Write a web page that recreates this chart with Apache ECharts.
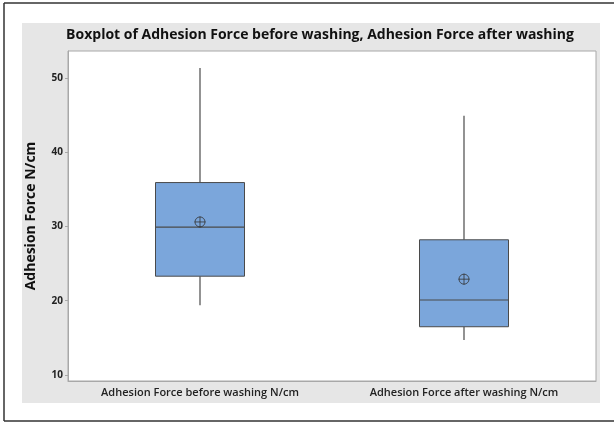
<!DOCTYPE html>
<html>
<head>
<meta charset="utf-8">
<script src="https://cdn.jsdelivr.net/npm/echarts@6/dist/echarts.min.js"></script>
<style>
  html, body { margin: 0; padding: 0; background: #fff; }
  #chart { width: 614px; height: 423px; }
</style>
</head>
<body>
<div id="chart"></div>
<script>
// values
const categories = ["Adhesion Force before washing N/cm", "Adhesion Force after washing N/cm"];
const whiskerLow = [19.4, 14.7];
const q1 = [23.3, 16.5];
const median = [29.9, 20.1];
const q3 = [35.9, 28.2];
const whiskerHigh = [51.3, 44.9];
const means = [30.6, 22.9];
const yTicks = [10, 20, 30, 40, 50];

const boxData = categories.map((c, i) => [i, whiskerLow[i], q1[i], median[i], q3[i], whiskerHigh[i]]);
const meanData = categories.map((c, i) => [i, means[i]]);

// Minitab-style box without whisker caps
function renderBox(params, api) {
  const x = api.value(0);
  const low = api.coord([x, api.value(1)]);
  const b = api.coord([x, api.value(2)]);
  const m = api.coord([x, api.value(3)]);
  const t = api.coord([x, api.value(4)]);
  const high = api.coord([x, api.value(5)]);
  const half = 44.5;
  const line = { stroke: "#4a4a4a", lineWidth: 1.2 };
  return {
    type: "group",
    children: [
      { type: "line", shape: { x1: high[0], y1: high[1], x2: t[0], y2: t[1] }, style: line },
      { type: "line", shape: { x1: b[0], y1: b[1], x2: low[0], y2: low[1] }, style: line },
      { type: "rect", shape: { x: t[0] - half, y: t[1], width: half * 2, height: b[1] - t[1] }, style: { fill: "#7ba6db", stroke: "#4a4a4a", lineWidth: 1 } },
      { type: "line", shape: { x1: m[0] - half, y1: m[1], x2: m[0] + half, y2: m[1] }, style: line }
    ]
  };
}

const font = "'Open Sans', 'DejaVu Sans', sans-serif";
const chart = echarts.init(document.getElementById("chart"));
chart.setOption({
  animation: false,
  backgroundColor: "#fff",
  graphic: [
    { type: "rect", silent: true, z: -10, shape: { x: 22, y: 23, width: 578, height: 380 }, style: { fill: "#e6e6e6" } },
    { type: "line", silent: true, shape: { x1: 4, y1: 3, x2: 614, y2: 3 }, style: { stroke: "#333", lineWidth: 1.5 } },
    { type: "line", silent: true, shape: { x1: 4, y1: 3, x2: 4, y2: 421 }, style: { stroke: "#333", lineWidth: 1.5 } },
    { type: "line", silent: true, shape: { x1: 4, y1: 421, x2: 614, y2: 421 }, style: { stroke: "#333", lineWidth: 1.5 } }
  ],
  title: {
    text: "Boxplot of Adhesion Force before washing, Adhesion Force after washing",
    left: 315,
    textAlign: "center",
    top: 23,
    textStyle: { fontFamily: font, fontSize: 14, fontWeight: "bold", color: "#111" }
  },
  grid: {
    left: 68, top: 51, right: 18, bottom: 42,
    show: true, backgroundColor: "#fff", borderColor: "#a8a8a8", borderWidth: 1
  },
  xAxis: {
    type: "category",
    data: categories,
    boundaryGap: true,
    axisLine: { lineStyle: { color: "#a8a8a8" } },
    axisTick: { alignWithLabel: true, length: 3, lineStyle: { color: "#a8a8a8" } },
    axisLabel: { fontFamily: font, fontSize: 11, fontWeight: 600, color: "#222", margin: 6 },
    splitLine: { show: false }
  },
  yAxis: {
    type: "value",
    min: 9.2,
    max: 53.6,
    name: "Adhesion Force N/cm",
    nameLocation: "middle",
    nameGap: 30,
    nameTextStyle: { fontFamily: font, fontSize: 14, fontWeight: "bold", color: "#111" },
    axisLine: { show: true, lineStyle: { color: "#a8a8a8" } },
    axisTick: { show: true, length: 3, customValues: yTicks, lineStyle: { color: "#a8a8a8" } },
    axisLabel: { fontFamily: font, fontSize: 10, fontWeight: "bold", color: "#222", margin: 5, customValues: yTicks },
    splitLine: { show: false }
  },
  series: [
    {
      type: "custom",
      data: boxData,
      encode: { x: 0, y: [1, 2, 3, 4, 5] },
      renderItem: renderBox,
      z: 2
    },
    {
      type: "scatter",
      data: meanData,
      symbol: "circle",
      symbolSize: 10,
      itemStyle: { color: "none", borderColor: "#333", borderWidth: 1 },
      z: 5
    },
    {
      type: "scatter",
      data: meanData,
      symbol: "path://M6,0L6,12M0,6L12,6",
      symbolSize: 11,
      itemStyle: { color: "none", borderColor: "#333", borderWidth: 1 },
      z: 5
    }
  ]
});
</script>
</body>
</html>
